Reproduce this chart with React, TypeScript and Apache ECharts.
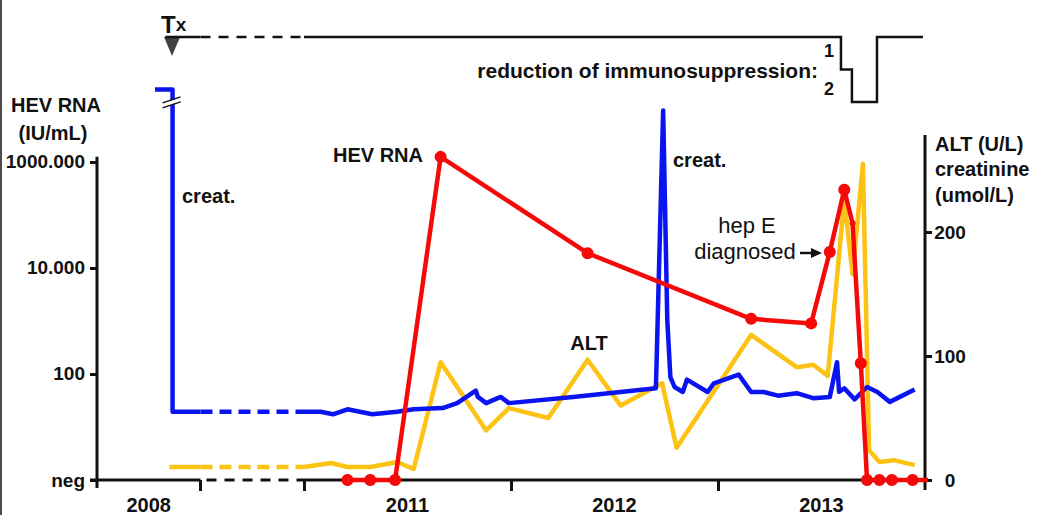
import React, { useEffect, useRef } from 'react';
import * as echarts from 'echarts';

const FONT = '"Liberation Sans", Arial, Helvetica, sans-serif';
const BLUE = '#0a14f0';
const RED = '#f50a0a';
const YELLOW = '#fcc314';
const INK = '#111';

// x values are decimal years; the time axis is broken between 2009 and 2011
const yearLabels = ['2008', '2011', '2012', '2013'];
const yearLabelPos = [2008.5, 2011.5, 2012.5, 2013.5];
const yearTickPos = [2009, 2011, 2012, 2013];

// left axis: HEV RNA (IU/mL), log scale, "neg" at the bottom
const hevTickValues = [1, 100, 10000, 1000000];
const hevTickLabels = ['neg', '100', '10.000', '1000.000'];
// right axis: ALT (U/L) / creatinine (umol/L)
const rightTickValues = [0, 100, 200];

// HEV RNA, 0 = negative
const hevRna: [number, number][] = [
  [2011.21, 0], [2011.32, 0], [2011.44, 0], [2011.66, 1250000], [2012.37, 19000],
  [2013.16, 1100], [2013.45, 900], [2013.54, 20000], [2013.61, 300000], [2013.65, 70000],
  [2013.69, 160], [2013.72, 0], [2013.78, 0], [2013.84, 0], [2013.94, 0],
];
const hevTail: [number, number] = [2014.04, 0];

// ALT (U/L)
const altEarly: [number, number][] = [[2008.7, 10.5], [2009.0, 10.5]];
const altMain: [number, number][] = [
  [2011.0, 10.5], [2011.13, 13.7], [2011.21, 10.5], [2011.32, 10.5], [2011.45, 14.5],
  [2011.53, 8.9], [2011.66, 95], [2011.88, 40], [2011.99, 58], [2012.18, 50],
  [2012.37, 97], [2012.53, 60], [2012.73, 78], [2012.8, 26], [2013.16, 117],
  [2013.38, 91], [2013.46, 93], [2013.53, 84], [2013.61, 226], [2013.65, 166],
  [2013.7, 255], [2013.73, 24], [2013.78, 14.5], [2013.85, 16], [2013.95, 12],
];

// creatinine (umol/L); the 2008 value is off-scale (axis break)
const creatEarly: [number, number][] = [[2008.56, 315], [2008.73, 315], [2008.73, 55], [2009.0, 55]];
const creatMain: [number, number][] = [
  [2011.0, 55], [2011.08, 55], [2011.14, 53], [2011.21, 57], [2011.33, 53], [2011.45, 55],
  [2011.53, 57], [2011.67, 58], [2011.74, 62], [2011.83, 72], [2011.84, 67], [2011.88, 62],
  [2011.95, 67], [2011.99, 62], [2012.3, 67], [2012.7, 74], [2012.735, 298], [2012.755, 129],
  [2012.77, 83], [2012.79, 75], [2012.83, 71], [2012.85, 81], [2012.95, 71], [2012.98, 78],
  [2013.1, 85], [2013.16, 71], [2013.22, 71], [2013.29, 68], [2013.38, 70], [2013.46, 66],
  [2013.54, 67], [2013.575, 95], [2013.585, 71], [2013.61, 74], [2013.66, 65], [2013.72, 75],
  [2013.77, 71], [2013.83, 63], [2013.95, 73],
];

// reduction of immunosuppression: level 0 = full, 1 and 2 = reduced
const txEvent: [number, number] = [2008.725, 0];
const immunoEarly: [number, number][] = [[2008.66, 0], [2009.0, 0]];
const immunoMain: [number, number][] = [
  [2011.0, 0], [2013.594, 1], [2013.647, 2], [2013.768, 0], [2013.99, 0],
];

const toU = (year: number) => (year < 2010 ? (year - 2008) * 0.5 : year - 2010);
const hevToAxis = (v: number) => (v <= 1 ? 0 : Math.log10(v));
const mapXY = (d: [number, number][]) => d.map(([x, y]) => [toU(x), y]);
const hevAxisMax = 6.415;
const rightAxisMax = 274.2;

const lineBase = (color: string, width = 4.5, dashed = false) => ({
  type: 'line' as const,
  showSymbol: false,
  symbol: 'none',
  clip: false,
  silent: true,
  lineStyle: { color, width, type: dashed ? [12, 7] : 'solid', join: 'round', cap: 'butt' },
});

export default function App() {
  const ref = useRef<HTMLDivElement>(null);
  useEffect(() => {
    document.body.style.margin = '0';
    const chart = echarts.init(ref.current!, undefined, { renderer: 'svg' });
    const txtStyle = (size: number, weight: string = 'bold') => ({
      fontFamily: FONT, fontSize: size, fontWeight: weight, color: INK,
    });
    const option: any = {
      animation: false,
      backgroundColor: '#fff',
      grid: [
        { left: 97, right: 112, top: 140, bottom: 35 },
        { left: 97, right: 112, top: 37, height: 65 },
      ],
      xAxis: [
        {
          type: 'value', gridIndex: 0, min: 0, max: 4,
          axisLine: { show: false }, splitLine: { show: false },
          axisTick: { show: true, customValues: yearTickPos.map(toU), length: 11, lineStyle: { color: INK, width: 3 } },
          axisLabel: {
            customValues: yearLabelPos.map(toU),
            formatter: (v: number) => {
              const i = yearLabelPos.map(toU).findIndex((p) => Math.abs(p - v) < 1e-6);
              return i >= 0 ? yearLabels[i] : '';
            },
            margin: 15, ...txtStyle(20),
          },
        },
        { type: 'value', gridIndex: 1, min: 0, max: 4, show: false },
      ],
      yAxis: [
        {
          type: 'value', gridIndex: 0, min: 0, max: hevAxisMax, position: 'left',
          axisLine: { show: false }, splitLine: { show: false },
          axisTick: { show: true, customValues: hevTickValues.map(hevToAxis), length: 7, lineStyle: { color: INK, width: 3 } },
          axisLabel: {
            customValues: hevTickValues.map(hevToAxis),
            formatter: (v: number) => {
              const i = hevTickValues.map(hevToAxis).findIndex((p) => Math.abs(p - v) < 1e-6);
              return i >= 0 ? hevTickLabels[i] : '';
            },
            margin: 12, ...txtStyle(19),
          },
        },
        {
          type: 'value', gridIndex: 0, min: 0, max: rightAxisMax, position: 'right',
          axisLine: { show: false }, splitLine: { show: false },
          axisTick: { show: true, customValues: rightTickValues, length: 7, lineStyle: { color: INK, width: 3 } },
          axisLabel: { customValues: rightTickValues, margin: 25, align: 'center', ...txtStyle(19) },
        },
        { type: 'value', gridIndex: 1, min: 0, max: 2, inverse: true, show: false },
      ],
      series: [
        { ...lineBase(YELLOW), xAxisIndex: 0, yAxisIndex: 1, data: mapXY(altEarly), z: 2 },
        { ...lineBase(YELLOW, 4.5, true), xAxisIndex: 0, yAxisIndex: 1, data: mapXY([altEarly[altEarly.length - 1], altMain[0]]), z: 2 },
        { ...lineBase(YELLOW), xAxisIndex: 0, yAxisIndex: 1, data: mapXY(altMain), z: 2 },
        { ...lineBase(BLUE), xAxisIndex: 0, yAxisIndex: 1, data: mapXY(creatEarly), z: 3 },
        { ...lineBase(BLUE, 4.5, true), xAxisIndex: 0, yAxisIndex: 1, data: mapXY([creatEarly[creatEarly.length - 1], creatMain[0]]), z: 3 },
        { ...lineBase(BLUE), xAxisIndex: 0, yAxisIndex: 1, data: mapXY(creatMain), z: 3 },
        {
          type: 'line', xAxisIndex: 0, yAxisIndex: 0, clip: false, silent: true, z: 4,
          symbol: 'circle', showSymbol: true, showAllSymbol: true,
          itemStyle: { color: RED },
          lineStyle: { color: RED, width: 4.5 },
          data: [
            ...hevRna.map(([x, v]) => ({ value: [toU(x), hevToAxis(v)], symbolSize: v === 70000 ? 6 : 12 })),
            { value: [toU(hevTail[0]), hevToAxis(hevTail[1])], symbol: 'none' },
          ],
        },
        { ...lineBase(INK, 2.5), xAxisIndex: 1, yAxisIndex: 2, data: mapXY(immunoEarly) },
        { ...lineBase(INK, 2.5, true), xAxisIndex: 1, yAxisIndex: 2, lineStyle: { color: INK, width: 2.5, type: [10, 8] }, data: mapXY([immunoEarly[immunoEarly.length - 1], immunoMain[0]]) },
        { ...lineBase(INK, 2.5), xAxisIndex: 1, yAxisIndex: 2, step: 'end', lineStyle: { color: INK, width: 2.5, join: 'miter' }, data: mapXY(immunoMain) },
        {
          type: 'scatter', xAxisIndex: 1, yAxisIndex: 2, silent: true, clip: false,
          symbol: 'triangle', symbolRotate: 180, symbolSize: [16, 19], symbolOffset: [0, 9.5],
          itemStyle: { color: INK }, data: [mapXY([txEvent])[0]], z: 5,
        },
      ],
    };
    chart.setOption(option);

    const P = (u: number, v: number) => chart.convertToPixel({ xAxisIndex: 0, yAxisIndex: 1 }, [u, v]) as number[];
    const [x0, yb] = P(0, 0);
    const [xBreakA] = P(toU(2009), 0);
    const [xBreakB] = P(toU(2011), 0);
    const [x4] = P(4, 0);
    const yTop = P(0, rightAxisMax)[1];
    const yLeftTop = chart.convertToPixel({ xAxisIndex: 0, yAxisIndex: 0 }, [0, 6.1])[1];
    const [bx, bTop] = P(toU(creatEarly[1][0]), creatEarly[1][1]);
    const ax = (x1: number, y1: number, x2: number, y2: number, dash?: number[], w = 3, z = 1) => ({
      type: 'line', z, silent: true,
      shape: { x1, y1, x2, y2 },
      style: { stroke: INK, lineWidth: w, lineDash: dash },
    });
    const text = (t: string, x: number, y: number, size: number, align = 'left', weight = 'bold') => ({
      type: 'text', x, y, silent: true, z: 6,
      style: { text: t, fill: INK, font: `${weight} ${size}px ${FONT}`, align, verticalAlign: 'middle' },
    });
    const by = bTop + 12;
    chart.setOption({
      graphic: [
        ax(1, 0, 1, 515, undefined, 1.5),
        ax(x0 - 7, yb, xBreakA, yb),
        ax(xBreakA + 6, yb, xBreakB, yb, [10, 8]),
        ax(xBreakB, yb, x4, yb),
        ax(x0, yLeftTop, x0, yb + 8),
        ax(x4, yTop - 5, x4, yb + 10),
        // axis-break mark on the creatinine line
        { type: 'polygon', z: 8, silent: true, shape: { points: [[bx - 10, by + 2], [bx + 8, by - 4], [bx + 8, by + 0.5], [bx - 10, by + 6.5]] }, style: { fill: '#fff' } },
        ax(bx - 10, by + 1.5, bx + 8, by - 4.5, undefined, 1.5, 9),
        ax(bx - 10, by + 6.5, bx + 8, by + 0.5, undefined, 1.5, 9),
        text('HEV RNA', 56, 105, 20, 'center'),
        text('(IU/mL)', 53, 133, 20, 'center'),
        text('ALT (U/L)', 935, 144, 20),
        text('creatinine', 935, 169, 20),
        text('(umol/L)', 935, 195, 20),
        text('creat.', 182, 196, 20),
        text('creat.', 673, 160, 20),
        text('HEV RNA', 423, 155, 20, 'right'),
        text('ALT', 589, 343, 20, 'center'),
        text('hep E', 747, 225, 22, 'center', 'normal'),
        text('diagnosed', 745, 251, 22, 'center', 'normal'),
        ax(800, 253, 813, 253, undefined, 2.5),
        { type: 'polygon', z: 6, silent: true, shape: { points: [[811, 248], [822, 253], [811, 258]] }, style: { fill: INK } },
        text('reduction of immunosuppression:', 818, 70, 21, 'right'),
        text('1', 829, 51, 18, 'center'),
        text('2', 829, 89, 18, 'center'),
        {
          type: 'text', x: 161, y: 36, silent: true, z: 6,
          style: {
            text: '{a|T}{b|x}', align: 'left', verticalAlign: 'bottom',
            rich: {
              a: { font: `bold 24px ${FONT}`, fill: INK },
              b: { font: `bold 19px ${FONT}`, fill: INK },
            },
          },
        },
      ],
    });
    return () => chart.dispose();
  }, []);
  return <div ref={ref} style={{ position: 'fixed', left: 0, top: 0, width: 1037, height: 515 }} />;
}
